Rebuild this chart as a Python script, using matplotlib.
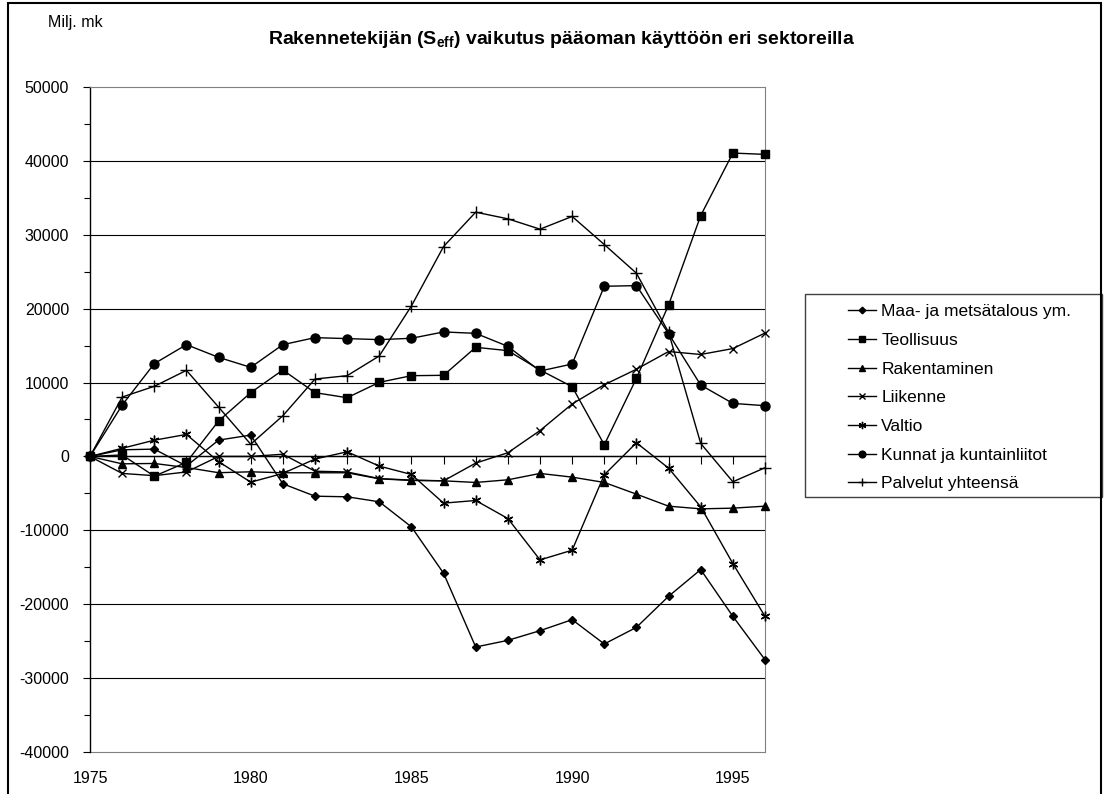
import matplotlib
matplotlib.use("Agg")
import matplotlib.pyplot as plt
from matplotlib.patches import Rectangle
from matplotlib.ticker import MultipleLocator

plt.rcParams["font.family"] = ["Liberation Sans", "DejaVu Sans"]
plt.rcParams["mathtext.fontset"] = "custom"
plt.rcParams["mathtext.rm"] = "Liberation Sans"
plt.rcParams["mathtext.bf"] = "Liberation Sans:bold"
plt.rcParams["axes.unicode_minus"] = False

years = list(range(1975, 1997))

maa = [0, 900, 990, -1300, 2210, 2890, -3700, -5380, -5460, -6140, -9530,
       -15810, -25790, -24890, -23580, -22090, -25380, -23130, -18930, -15310,
       -21640, -27510]
teollisuus = [0, 200, -2670, -800, 4800, 8630, 11700, 8630, 7950, 10030, 10930,
              10980, 14770, 14320, 11700, 9440, 1580, 10570, 20500, 32600,
              41060, 40880]
rakentaminen = [0, -1000, -950, -1500, -2200, -2080, -2210, -2210, -2210, -3030,
                -3250, -3300, -3520, -3160, -2300, -2800, -3520, -5100, -6730,
                -7090, -7000, -6730]
liikenne = [0, -2300, -2600, -2100, 0, 0, 300, -2000, -2100, -3000, -3200,
            -3300, -900, 500, 3500, 7100, 9700, 11800, 14200, 13800, 14600,
            16700]
valtio = [0, 1100, 2200, 2980, -700, -3480, -2300, -350, 630, -1310, -2440,
          -6320, -5960, -8400, -14000, -12690, -2480, 1850, -1580, -6820,
          -14500, -21640]
kunnat = [0, 6950, 12560, 15130, 13410, 12060, 15130, 16080, 15950, 15810,
          15990, 16850, 16660, 14900, 11560, 12510, 23030, 23120, 16620, 9660,
          7180, 6870]
palvelut = [0, 8040, 9490, 11650, 6680, 1650, 5510, 10480, 10930, 13600, 20370,
            28410, 33060, 32160, 30760, 32480, 28680, 24800, 16800, 1760,
            -3430, -1530]

labels = ["Maa- ja metsätalous ym.", "Teollisuus", "Rakentaminen", "Liikenne",
          "Valtio", "Kunnat ja kuntainliitot", "Palvelut yhteensä"]

fig = plt.figure(figsize=(11.04, 7.94), dpi=100)
ax = fig.add_axes([90 / 1104, 1 - 752 / 794, 675 / 1104, 665 / 794])

# markers roughly like the old Excel ones
styles = [
    dict(marker="D", ms=4.5),
    dict(marker="s", ms=6),
    dict(marker="^", ms=6),
    dict(marker="x", ms=6, mew=1.0),
    dict(marker=(6, 2, 0), ms=7, mew=1.0),
    dict(marker="o", ms=6.5),
    dict(marker="+", ms=8, mew=1.0),
]
series = [maa, teollisuus, rakentaminen, liikenne, valtio, kunnat, palvelut]
handles = []
for vals, lab, st in zip(series, labels, styles):
    h, = ax.plot(years, vals, color="black", lw=1.0, mfc="black", mec="black",
                 label=lab, clip_on=False, zorder=3, **st)
    handles.append(h)

ax.set_xlim(1975, 1996)
ax.set_ylim(-40000, 50000)

# grid
for yv in range(-30000, 50000, 10000):
    ax.axhline(yv, color="black", lw=0.8, zorder=1)

ax.yaxis.set_major_locator(MultipleLocator(10000))
ax.yaxis.set_minor_locator(MultipleLocator(5000))
ax.tick_params(axis="y", which="both", direction="out", length=5, width=0.8,
               labelsize=11.5, pad=10)
ax.tick_params(axis="y", which="minor", length=4)

# x axis crosses at zero
ax.spines["bottom"].set_position(("data", 0))
ax.spines["bottom"].set_linewidth(1.0)
ax.set_xticks(years)
ax.set_xticklabels([])
ax.tick_params(axis="x", direction="out", length=6, width=0.8)
ax.spines["top"].set_color("#808080")
ax.spines["right"].set_color("#808080")
ax.spines["left"].set_linewidth(1.0)

# year labels at the bottom of the plot area
sec = ax.secondary_xaxis(0)
sec.set_xticks([1975, 1980, 1985, 1990, 1995])
sec.tick_params(length=0, labelsize=11.5, pad=14)
sec.spines["bottom"].set_color("#808080")

fig.text(562 / 1104, 1 - 40 / 794,
         r"Rakennetekijän ($\mathbf{S_{eff}}$) vaikutus pääoman käyttöön eri sektoreilla",
         ha="center", va="center", fontsize=14, fontweight="bold")
fig.text(48 / 1104, 1 - 22 / 794, "Milj. mk", ha="left", va="center", fontsize=11.5)

# legend box
fig.patches.append(Rectangle((805 / 1104, 1 - 497 / 794), 297 / 1104, 203 / 794,
                             transform=fig.transFigure, fill=False,
                             edgecolor="#404040", lw=1.0))
fig.legend(handles=handles, loc="upper left",
           bbox_to_anchor=(836 / 1104, 1 - 292 / 794), frameon=False,
           fontsize=12.5, handlelength=1.6, handletextpad=0.3,
           labelspacing=0.78, borderpad=0.2, markerscale=0.75)

# outer frame
fig.patches.append(Rectangle((8 / 1104, -0.01), 1093 / 1104, 1 - 3 / 794 + 0.01,
                             transform=fig.transFigure, fill=False,
                             edgecolor="black", lw=1.5))

plt.savefig("out.png", dpi=100)
